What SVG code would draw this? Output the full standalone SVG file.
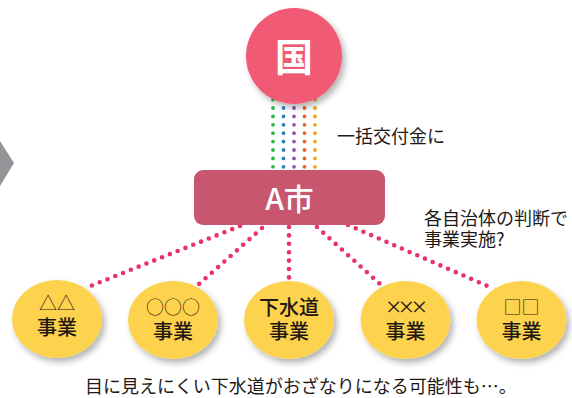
<svg xmlns="http://www.w3.org/2000/svg" width="572" height="398" viewBox="0 0 572 398">
<defs>
<filter id="sh" x="-20%" y="-20%" width="150%" height="150%">
<feDropShadow dx="3" dy="4" stdDeviation="3" flood-color="#000" flood-opacity="0.3"/>
</filter>
<style>
.t{font-family:"Noto Sans CJK JP","Noto Sans",sans-serif;fill:#231815}
.pk{fill:none;stroke:#e8336a;stroke-width:4.6;stroke-linecap:round;stroke-dasharray:0 8.4}
.cl{fill:none;stroke-width:3.8;stroke-linecap:round;stroke-dasharray:0 8.4}
.ell{fill:#fdd24e;filter:url(#sh)}
.sym{font-size:18px;font-weight:300;text-anchor:middle}
.jg{font-size:20px;font-weight:500;text-anchor:middle}
</style>
</defs>
<rect width="572" height="398" fill="#fff"/>
<polygon points="0,141 14,163 0,186" fill="#939598"/>
<g id="connectors">
<line class="cl" stroke="#2fb34a" x1="273" y1="99.6" x2="273" y2="168"/>
<line class="cl" stroke="#2a7fc8" x1="283.5" y1="99.6" x2="283.5" y2="168"/>
<line class="cl" stroke="#9b4fa8" x1="294" y1="99.6" x2="294" y2="168"/>
<line class="cl" stroke="#ee5a3a" x1="304.5" y1="99.6" x2="304.5" y2="168"/>
<line class="cl" stroke="#f5a21a" x1="315" y1="99.6" x2="315" y2="168"/>
<line class="pk" x1="240" y1="226" x2="88" y2="287"/>
<line class="pk" x1="262" y1="228" x2="198" y2="285"/>
<line class="pk" x1="289" y1="227" x2="289" y2="282"/>
<line class="pk" x1="317" y1="227" x2="380" y2="284"/>
<line class="pk" x1="348" y1="225" x2="492" y2="288"/>
</g>
<g id="kuni">
<circle cx="294" cy="56" r="48" fill="#f05a74" filter="url(#sh)"/>
<text x="294" y="71" font-family="Noto Sans CJK JP,sans-serif" font-size="38" font-weight="700" fill="#fff" text-anchor="middle">国</text>
</g>
<g id="label-kofukin">
<text class="t" x="337" y="143" font-size="18">一括交付金に</text>
</g>
<g id="ashi">
<rect x="194" y="170" width="191" height="55" rx="9" fill="#c8566f"/>
<text x="289.5" y="210" font-family="Noto Sans CJK JP,sans-serif" font-size="30" font-weight="500" fill="#fff" text-anchor="middle">A市</text>
</g>
<g id="label-handan">
<text class="t" x="424" y="225" font-size="18">各自治体の判断で</text>
<text class="t" x="424" y="246" font-size="18">事業実施?</text>
</g>
<g id="n1">
<ellipse class="ell" cx="57" cy="319" rx="45" ry="39"/>
<text class="t sym" x="57" y="310">△△</text>
<text class="t jg" x="57" y="335">事業</text>
</g>
<g id="n2">
<ellipse class="ell" cx="173" cy="320" rx="45" ry="39"/>
<text class="t sym" x="173" y="314">○○○</text>
<text class="t jg" x="173" y="338.5">事業</text>
</g>
<g id="n3">
<ellipse class="ell" cx="289" cy="320" rx="45" ry="39"/>
<text class="t jg" x="289" y="315">下水道</text>
<text class="t jg" x="289" y="338.5">事業</text>
</g>
<g id="n4">
<ellipse class="ell" cx="405.5" cy="320" rx="45" ry="39"/>
<text x="405.5" y="316" font-family="Noto Sans,sans-serif" font-size="26" font-weight="300" fill="#231815" text-anchor="middle" letter-spacing="-2">×××</text>
<text class="t jg" x="405.5" y="338.5">事業</text>
</g>
<g id="n5">
<ellipse class="ell" cx="521.5" cy="320" rx="45" ry="39"/>
<text class="t sym" x="521.5" y="314">□□</text>
<text class="t jg" x="521.5" y="338.5">事業</text>
</g>
<g id="caption">
<text class="t" x="85" y="393" font-size="18">目に見えにくい下水道がおざなりになる可能性も…。</text>
</g>
</svg>
